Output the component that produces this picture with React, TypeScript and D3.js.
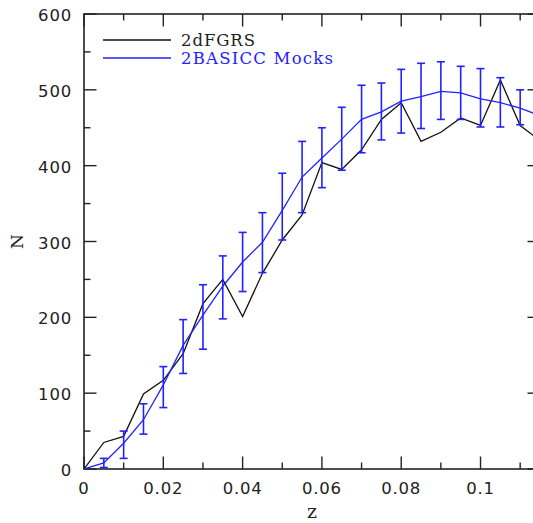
import React from "react";
import * as d3 from "d3";

const zValues = [0, 0.005, 0.01, 0.015, 0.02, 0.025, 0.03, 0.035, 0.04, 0.045, 0.05, 0.055, 0.06, 0.065, 0.07, 0.075, 0.08, 0.085, 0.09, 0.095, 0.1, 0.105, 0.11, 0.115];
const dfgrsN = [0, 35, 43, 99, 117, 152, 218, 250, 201, 258, 302, 335, 404, 395, 421, 461, 483, 432, 444, 463, 453, 513, 453, 433];

const mockZ = [0, 0.005, 0.01, 0.015, 0.02, 0.025, 0.03, 0.035, 0.04, 0.045, 0.05, 0.055, 0.06, 0.065, 0.07, 0.075, 0.08, 0.085, 0.09, 0.095, 0.1, 0.105, 0.11, 0.115];
const mockN = [0, 8, 34, 65, 111, 163, 203, 241, 273, 299, 341, 385, 410, 435, 461, 471, 485, 491, 498, 496, 488, 483, 476, 466];
const mockLo = [null, 2, 14, 46, 81, 126, 158, 198, 234, 259, 302, 338, 371, 394, 417, 434, 443, 449, 461, 461, 451, 451, 454, null];
const mockHi = [null, 14, 50, 86, 135, 197, 243, 281, 312, 338, 390, 432, 450, 477, 506, 509, 527, 535, 537, 531, 528, 516, 500, null];

const xMajorTicks = [0, 0.02, 0.04, 0.06, 0.08, 0.1];
const xTickLabels = ["0", "0.02", "0.04", "0.06", "0.08", "0.1"];
const xMinorTicks = [0.01, 0.03, 0.05, 0.07, 0.09, 0.11];
const yMajorTicks = [0, 100, 200, 300, 400, 500, 600];
const yMinorTicks = [50, 150, 250, 350, 450, 550];

const legendLabels = ["2dFGRS", "2BASICC Mocks"];

const W = 533;
const H = 523;
const L = 84;
const R = 540;
const T = 14;
const B = 469;
const BLUE = "#2222ff";
const INK = "#222";
const FONT = "DejaVu Sans, sans-serif";
const SERIF = "DejaVu Serif, serif";

export default function App() {
  const x = d3.scaleLinear().domain([0, 0.115]).range([L, R]);
  const y = d3.scaleLinear().domain([0, 600]).range([B, T]);

  const blackLine = d3
    .line<number>()
    .x((_, i) => x(zValues[i]))
    .y((d) => y(d))(dfgrsN) as string;
  const blueLine = d3
    .line<number>()
    .x((_, i) => x(mockZ[i]))
    .y((d) => y(d))(mockN) as string;

  const majLen = 12.5;
  const minLen = 6.5;

  return (
    <svg
      width={W}
      height={H}
      style={{ position: "absolute", left: 0, top: 0, background: "#fff" }}
      fontFamily={FONT}
    >
      <defs>
        <clipPath id="plot">
          <rect x={L} y={T} width={R - L} height={B - T} />
        </clipPath>
      </defs>
      <rect x={0} y={0} width={W} height={H} fill="#fff" />

      <rect x={L} y={T} width={R - L} height={B - T} fill="none" stroke={INK} strokeWidth={1.6} />

      {xMajorTicks.map((t) => (
        <g key={"xM" + t}>
          <line x1={x(t)} x2={x(t)} y1={B} y2={B - majLen} stroke={INK} strokeWidth={1.4} />
          <line x1={x(t)} x2={x(t)} y1={T} y2={T + majLen} stroke={INK} strokeWidth={1.4} />
        </g>
      ))}
      {xMinorTicks.map((t) => (
        <g key={"xm" + t}>
          <line x1={x(t)} x2={x(t)} y1={B} y2={B - minLen} stroke={INK} strokeWidth={1.4} />
          <line x1={x(t)} x2={x(t)} y1={T} y2={T + minLen} stroke={INK} strokeWidth={1.4} />
        </g>
      ))}
      {yMajorTicks.map((t) => (
        <g key={"yM" + t}>
          <line x1={L} x2={L + majLen} y1={y(t)} y2={y(t)} stroke={INK} strokeWidth={1.4} />
          <line x1={R} x2={R - majLen} y1={y(t)} y2={y(t)} stroke={INK} strokeWidth={1.4} />
        </g>
      ))}
      {yMinorTicks.map((t) => (
        <g key={"ym" + t}>
          <line x1={L} x2={L + minLen} y1={y(t)} y2={y(t)} stroke={INK} strokeWidth={1.4} />
          <line x1={R} x2={R - minLen} y1={y(t)} y2={y(t)} stroke={INK} strokeWidth={1.4} />
        </g>
      ))}

      {xMajorTicks.map((t, i) => (
        <text key={"xl" + t} x={x(t)} y={494} textAnchor="middle" fontSize={16.5} fill={INK} letterSpacing={0.8}>
          {xTickLabels[i]}
        </text>
      ))}
      {yMajorTicks.map((t) => (
        <text key={"yl" + t} x={72} y={y(t) + 7} textAnchor="end" fontSize={16.5} fill={INK} letterSpacing={0.8}>
          {String(t)}
        </text>
      ))}

      <text x={(L + R) / 2} y={518} textAnchor="middle" fontSize={19} fill={INK} fontFamily={SERIF}>
        z
      </text>
      <text
        transform={`translate(23, ${(T + B) / 2}) rotate(-90)`}
        textAnchor="middle"
        fontSize={17}
        fill={INK}
        fontFamily={SERIF}
      >
        N
      </text>

      <g clipPath="url(#plot)">
        <path d={blackLine} fill="none" stroke="#111" strokeWidth={1.3} />
        <path d={blueLine} fill="none" stroke={BLUE} strokeWidth={1.3} />
        {mockZ.map((z, i) => {
          const lo = mockLo[i];
          const hi = mockHi[i];
          if (lo == null || hi == null) return null;
          const cx = x(z);
          return (
            <g key={"e" + i} stroke={BLUE} strokeWidth={1.6}>
              <line x1={cx} x2={cx} y1={y(lo)} y2={y(hi)} />
              <line x1={cx - 4} x2={cx + 4} y1={y(lo)} y2={y(lo)} />
              <line x1={cx - 4} x2={cx + 4} y1={y(hi)} y2={y(hi)} />
            </g>
          );
        })}
      </g>

      <line x1={103} x2={171} y1={40} y2={40} stroke="#111" strokeWidth={1.3} />
      <text x={181} y={45.5} fontSize={16.5} fill={INK} fontFamily={SERIF} textLength={74} lengthAdjust="spacing">
        {legendLabels[0]}
      </text>
      <line x1={103} x2={171} y1={58} y2={58} stroke={BLUE} strokeWidth={1.3} />
      <text x={181} y={63.5} fontSize={16.5} fill={BLUE} fontFamily={SERIF} textLength={152} lengthAdjust="spacing">
        {legendLabels[1]}
      </text>
    </svg>
  );
}
